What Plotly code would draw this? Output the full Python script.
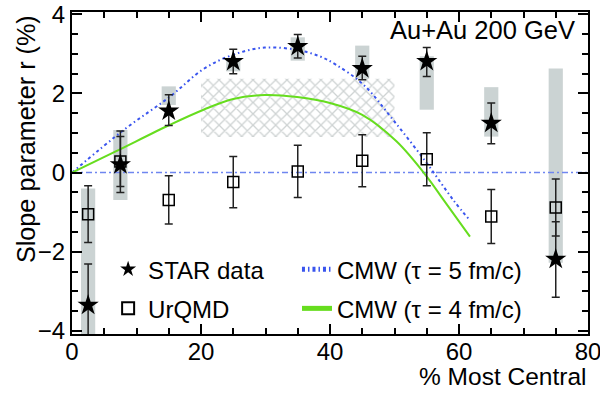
import plotly.graph_objects as go

# ---------------- data ----------------
cent = [2.5, 7.5, 15, 25, 35, 45, 55, 65, 75]

star_r = [-3.35, 0.20, 1.56, 2.81, 3.19, 2.63, 2.81, 1.25, -2.19]
star_err_hi = [-2.31, 1.05, 1.97, 3.12, 3.49, 2.94, 3.16, 1.76, -1.24]
star_err_lo = [-4.40, -0.50, 1.19, 2.50, 2.90, 2.35, 2.43, 0.73, -3.15]
star_sys_hi = [-0.40, 1.08, 2.18, 2.90, 3.42, 3.21, 2.94, 2.16, 2.63]
star_sys_lo = [-4.60, -0.69, 1.71, 2.56, 2.83, 2.26, 1.59, 0.91, -2.28]

urqmd_r = [-1.05, 0.28, -0.69, -0.24, 0.03, 0.30, 0.34, -1.11, -0.88]
urqmd_err = [0.72, 0.63, 0.61, 0.65, 0.66, 0.66, 0.67, 0.68, 0.72]

cmw5_x = [0, 8.2, 15.2, 20.4, 25, 29.9, 34.9, 38.4, 41.0, 45.2, 49.8, 55, 59.1, 61.7]
cmw5_y = [0, 1.10, 1.92, 2.62, 2.98, 3.16, 3.10, 2.94, 2.72, 2.22, 1.33, 0.24, -0.69, -1.21]

cmw4_x = [0, 6.7, 15.2, 20.4, 25, 29.9, 34.9, 40, 45, 50.3, 55, 57.6, 61.7]
cmw4_y = [0, 0.53, 1.21, 1.59, 1.86, 1.96, 1.91, 1.76, 1.46, 0.79, -0.10, -0.69, -1.62]

band_x = [20, 50]
band_y = [0.90, 2.37]

sys_width = 2.2
FONT = "Liberation Sans, Arial, Helvetica, sans-serif"
BLUE = "#3a55ee"
GREEN = "#66dd1e"
GRAY = "#cbd3d3"

fig = go.Figure()

# systematic boxes
fig.add_trace(go.Bar(
    x=cent, y=[h - l for h, l in zip(star_sys_hi, star_sys_lo)], base=star_sys_lo,
    width=sys_width, marker=dict(color=GRAY, line=dict(width=0)),
    showlegend=False, hoverinfo="skip"))

# hatched band
fig.add_trace(go.Bar(
    x=[(band_x[0] + band_x[1]) / 2], y=[band_y[1] - band_y[0]], base=[band_y[0]],
    width=band_x[1] - band_x[0],
    marker=dict(color="white", line=dict(width=0),
                pattern=dict(shape="x", fgcolor="#9ea7a7", bgcolor="white", size=8, solidity=0.3)),
    showlegend=False, hoverinfo="skip"))

# zero line
fig.add_trace(go.Scatter(x=[0, 80], y=[0, 0], mode="lines",
                         line=dict(color="#6f86f0", width=1.5, dash="6px,3px,2px,3px"),
                         showlegend=False, hoverinfo="skip"))

# CMW curves
fig.add_trace(go.Scatter(x=cmw5_x, y=cmw5_y, mode="lines", name="CMW (τ = 5 fm/c)",
                         line=dict(color=BLUE, width=2, dash="3px,3px,1.5px,3px", shape="spline"),
                         legend="legend2", legendgroup="cmw5", legendrank=1))
fig.add_trace(go.Scatter(x=cmw4_x, y=cmw4_y, mode="lines", name="CMW (τ = 4 fm/c)",
                         line=dict(color=GREEN, width=2, shape="spline"),
                         legend="legend2", legendgroup="cmw4", legendrank=2))

# UrQMD
fig.add_trace(go.Scatter(x=cent, y=urqmd_r, mode="markers", name="UrQMD",
                         marker=dict(symbol="square-open", size=11, color="black", line=dict(width=1.5)),
                         error_y=dict(type="data", array=urqmd_err, color="#222", thickness=1.5, width=4),
                         legend="legend", legendgroup="urqmd", legendrank=2))

# STAR data
fig.add_trace(go.Scatter(x=cent, y=star_r, mode="markers", name="STAR data",
                         marker=dict(symbol="star", size=16, color="black"),
                         error_y=dict(type="data", symmetric=False,
                                      array=[h - v for h, v in zip(star_err_hi, star_r)],
                                      arrayminus=[v - l for v, l in zip(star_r, star_err_lo)],
                                      color="#222", thickness=1.5, width=4),
                         legend="legend", legendgroup="star", legendrank=1))

axis_common = dict(showline=True, linecolor="black", linewidth=2, mirror="ticks",
                   ticks="inside", tickcolor="black", tickwidth=1.5, ticklen=10,
                   showgrid=False, zeroline=False, automargin=False, ticklabeloverflow="allow",
                   tickfont=dict(family=FONT, size=24, color="black"))

fig.update_xaxes(range=[0, 80], dtick=20, tick0=0, ticklabelstandoff=-5,
                 minor=dict(dtick=5, ticks="inside", ticklen=6, tickcolor="black", tickwidth=1.5, showgrid=False),
                 **axis_common)
fig.update_yaxes(range=[-4.08, 4.06], dtick=2, tick0=0,
                 minor=dict(dtick=0.5, ticks="inside", ticklen=6, tickcolor="black", tickwidth=1.5, showgrid=False),
                 **axis_common)

legend_common = dict(font=dict(family=FONT, size=24, color="black"), bgcolor="rgba(0,0,0,0)",
                     tracegroupgap=5, itemsizing="constant", traceorder="grouped",
                     xanchor="left", yanchor="top")

fig.update_layout(
    width=600, height=394,
    margin=dict(l=72, r=12, t=12, b=60),
    paper_bgcolor="white", plot_bgcolor="white",
    barmode="overlay",
    font=dict(family=FONT, color="black"),
    legend=dict(x=0.07, y=0.27, **legend_common),
    legend2=dict(x=0.436, y=0.27, **legend_common),
    annotations=[
        dict(text="Au+Au 200 GeV", xref="paper", yref="paper", x=0.978, y=0.944,
             xanchor="right", yanchor="middle", showarrow=False,
             font=dict(family=FONT, size=25.5, color="black")),
        dict(text="% Most Central", xref="paper", yref="paper", x=1.0, y=-0.133,
             xanchor="right", yanchor="middle", showarrow=False,
             font=dict(family=FONT, size=24.5, color="black")),
        dict(text="Slope parameter r (%)", xref="paper", yref="paper", x=-0.089, y=0.997,
             xanchor="center", yanchor="top", textangle=-90, showarrow=False,
             font=dict(family=FONT, size=25.2, color="black")),
    ],
)

fig.write_html("out.html", config={"displayModeBar": False},
               post_script="document.body.style.margin='0';document.body.style.padding='0';")
